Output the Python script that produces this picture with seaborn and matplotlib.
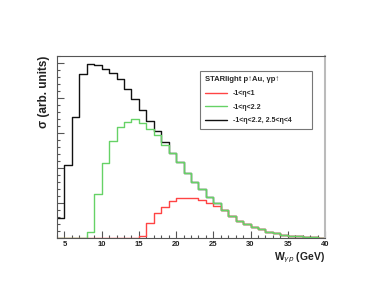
import numpy as np
import pandas as pd
import matplotlib
matplotlib.use("Agg")
import matplotlib.pyplot as plt
from matplotlib.lines import Line2D
from matplotlib.ticker import MultipleLocator, NullFormatter
import seaborn as sns

# W_gamma-p bins, 1 GeV wide from 4 to 40
bin_edges = list(range(4, 41))
bin_low = list(range(4, 40))

# sigma (arb. units), one value per bin
sigma_all = [0.57, 2.10, 3.48, 4.70, 4.97, 4.95, 4.85, 4.73, 4.54, 4.26,
             3.97, 3.67, 3.36, 3.07, 2.74, 2.45, 2.17, 1.87, 1.62, 1.40,
             1.19, 1.00, 0.81, 0.65, 0.50, 0.41, 0.33, 0.26, 0.19, 0.14,
             0.10, 0.08, 0.06, 0.04, 0.03, 0.01]
sigma_eta22 = [0.0, 0.0, 0.0, 0.0, 0.19, 1.26, 2.14, 2.77, 3.19, 3.33,
               3.40, 3.30, 3.12, 2.95, 2.68, 2.45, 2.17, 1.87, 1.62, 1.40,
               1.19, 1.00, 0.81, 0.65, 0.50, 0.41, 0.33, 0.26, 0.19, 0.14,
               0.10, 0.08, 0.06, 0.04, 0.03, 0.01]
sigma_eta1 = [0.0, 0.0, 0.0, 0.0, 0.0, 0.0, 0.0, 0.0, 0.0, 0.0,
              0.0, 0.08, 0.43, 0.73, 0.90, 1.07, 1.14, 1.14, 1.14, 1.10,
              1.02, 0.92, 0.81, 0.65, 0.50, 0.41, 0.33, 0.26, 0.19, 0.14,
              0.10, 0.08, 0.06, 0.04, 0.03, 0.01]

labels = ["-1<η<1", "-1<η<2.2", "-1<η<2.2, 2.5<η<4"]
colors = ["#ff4444", "#66d266", "#111111"]
legend_title = "STARlight p↑Au, γp↑"

df = pd.DataFrame({"W": [b + 0.5 for b in bin_low],
                   "all": sigma_all, "eta22": sigma_eta22, "eta1": sigma_eta1})

sns.set_style("white")
plt.rcParams["font.family"] = ["Liberation Sans", "DejaVu Sans"]

fig = plt.figure(figsize=(3.82, 2.95), dpi=100)
ax = fig.add_axes([0.1492, 0.1922, 0.7016, 0.618])

# black first, green on top (as in the original)
for col, c in [("all", colors[2]), ("eta1", colors[0]), ("eta22", colors[1])]:
    sns.histplot(data=df, x="W", weights=col, bins=bin_edges, element="step",
                 fill=False, color=c, linewidth=1.0, ax=ax)

ax.set_xlim(4, 40)
ax.set_ylim(0, 5.21)
ax.xaxis.set_major_locator(MultipleLocator(5))
ax.xaxis.set_minor_locator(MultipleLocator(1))
ax.yaxis.set_major_locator(MultipleLocator(1))
ax.yaxis.set_minor_locator(MultipleLocator(0.2))
ax.yaxis.set_major_formatter(NullFormatter())
ax.tick_params(which="both", direction="in", top=False, right=False,
               bottom=True, left=True, colors="#555555", width=0.8)
ax.tick_params(which="major", length=5, labelsize=5.5, pad=2, labelcolor="#222222")
ax.tick_params(which="minor", length=2.5)
for lab in ax.get_xticklabels():
    lab.set_fontweight("bold")

for s in ax.spines.values():
    s.set_color("#555555")
    s.set_linewidth(0.8)
ax.spines["right"].set_color("#bbbbbb")
ax.spines["right"].set_linewidth(1.5)

ax.set_xlabel("")
ax.set_ylabel("")
fig.text(0.851, 0.125, r"W$_{\gamma p}$ (GeV)", ha="right", va="center",
         fontsize=7.5, fontweight="bold", color="#222222")
fig.text(0.116, 0.812, "σ (arb. units)", ha="center", va="top", rotation=90,
         fontsize=8.5, fontweight="bold", color="#222222")

handles = [Line2D([], [], color=colors[i], lw=1.0) for i in range(3)]
leg = ax.legend(handles, labels, title=legend_title,
                bbox_to_anchor=(0.522, 0.627, 0.441, 0.307), loc="upper left",
                mode="expand", fontsize=5, title_fontsize=5.5,
                frameon=True, fancybox=False, edgecolor="#555555",
                handlelength=3.2, handletextpad=0.8, labelspacing=0.95,
                borderpad=0.7, alignment="left")
leg.get_frame().set_linewidth(0.8)
leg.get_title().set_fontweight("bold")
for t in leg.get_texts():
    t.set_fontweight("bold")

fig.savefig("out.png", dpi=100)
